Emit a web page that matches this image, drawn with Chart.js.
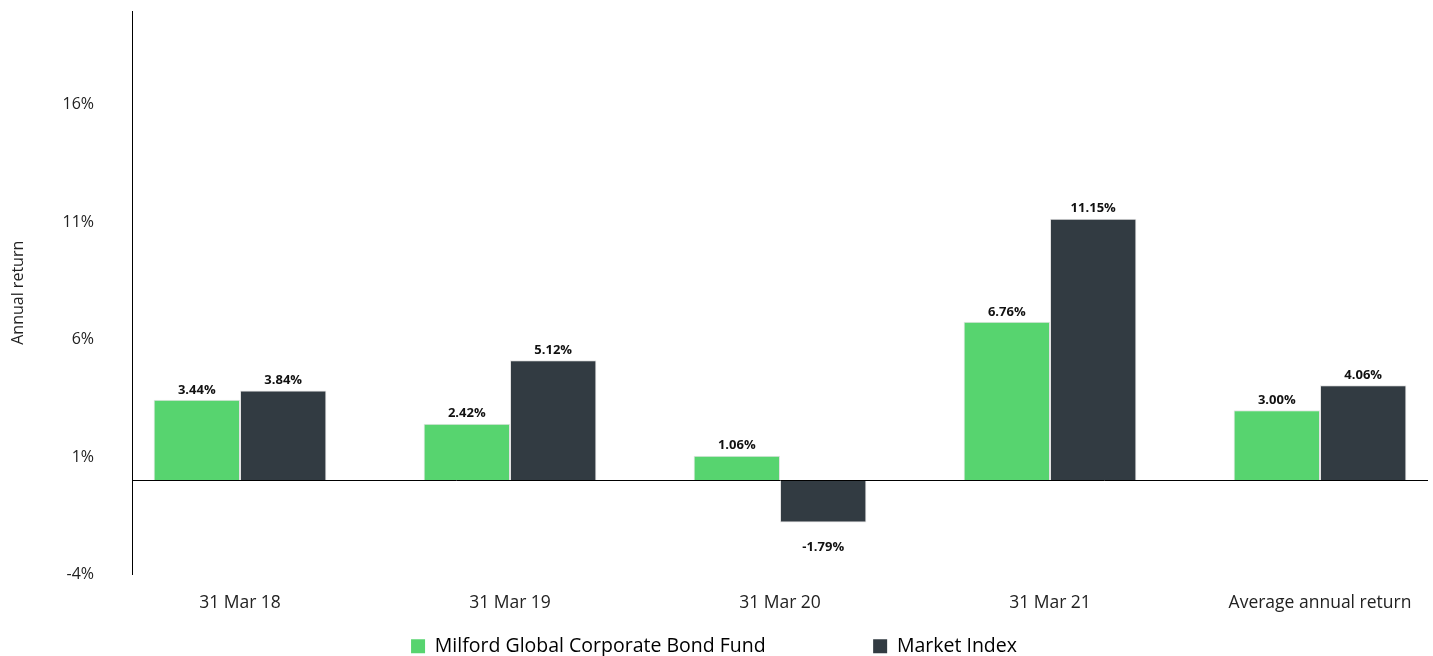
<!DOCTYPE html>
<html>
  <head>
    <title>Annual return</title>
    <script src="https://cdn.jsdelivr.net/npm/chart.js"></script>
    <style>
      html, body { margin: 0; padding: 0; background: #fff; overflow: hidden; }
    </style>
  </head>
  <body>
    <canvas id="myChart" width="1433" height="666"></canvas>
    <script>
      // data
      const categories = ["31 Mar 18", "31 Mar 19", "31 Mar 20", "31 Mar 21", "Average annual return"];
      const fundValues = [3.44, 2.42, 1.06, 6.76, 3.0];
      const indexValues = [3.84, 5.12, -1.79, 11.15, 4.06];
      const seriesNames = ["Milford Global Corporate Bond Fund", "Market Index"];
      const yTicks = [-4, 0, 1, 6, 11, 16];

      const FONT = "'Open Sans', 'DejaVu Sans', sans-serif";

      // labels above / below each bar
      const valueLabels = {
        id: "valueLabels",
        afterDatasetsDraw(chart) {
          const ctx = chart.ctx;
          ctx.save();
          ctx.font = "bold 13px " + FONT;
          ctx.fillStyle = "#111";
          ctx.textAlign = "center";
          chart.data.datasets.forEach((ds, i) => {
            chart.getDatasetMeta(i).data.forEach((bar, j) => {
              const v = ds.data[j].y;
              const y = v >= 0 ? bar.y - 10 : bar.y + 25;
              ctx.fillText(v.toFixed(2) + "%", bar.x, y);
            });
          });
          ctx.restore();
        },
      };

      const ctx = document.getElementById("myChart").getContext("2d");
      const chart = new Chart(ctx, {
        type: "bar",
        data: {
          datasets: [
            {
              label: seriesNames[0],
              data: fundValues.map((v, i) => ({ x: i, y: v })),
              backgroundColor: "#57d46f",
              borderColor: "#e2e2e2",
              borderWidth: 1,
            },
            {
              label: seriesNames[1],
              data: indexValues.map((v, i) => ({ x: i, y: v })),
              backgroundColor: "#323b42",
              borderColor: "#e2e2e2",
              borderWidth: 1,
            },
          ],
        },
        options: {
          responsive: false,
          animation: false,
          categoryPercentage: 0.64,
          barPercentage: 1.0,
          layout: { padding: { top: 11, right: 5, left: 0, bottom: 0 } },
          scales: {
            x: {
              type: "linear",
              offset: false,
              min: -0.4,
              max: 4.4,
              afterBuildTicks: (axis) => {
                axis.ticks = categories.map((c, i) => ({ value: i }));
              },
              afterFit: (axis) => {
                axis.height = 52;
              },
              grid: { display: false },
              border: { display: false },
              ticks: {
                padding: 10,
                color: "#222",
                font: { family: FONT, size: 17.5 },
                maxRotation: 0,
                autoSkip: false,
                callback: (v) => categories[v],
              },
            },
            y: {
              min: -4,
              max: 20,
              afterBuildTicks: (axis) => {
                axis.ticks = yTicks.map((v) => ({ value: v }));
              },
              afterFit: (axis) => {
                axis.width = 132;
              },
              grid: {
                drawTicks: true,
                tickLength: 38,
                tickColor: "rgba(0,0,0,0)",
                color: (c) => (c.tick && c.tick.value === 0 ? "#000" : "rgba(0,0,0,0)"),
                lineWidth: 1,
              },
              border: { display: true, color: "#000", width: 1 },
              ticks: {
                padding: 0,
                color: "#222",
                font: { family: FONT, size: 16 },
                callback: (v) => (v === 0 ? "" : v + "%"),
              },
              title: {
                display: true,
                text: "Annual return",
                color: "#222",
                font: { family: FONT, size: 16 },
                padding: { top: 9, bottom: 0 },
              },
            },
          },
          plugins: {
            legend: {
              position: "bottom",
              labels: {
                boxWidth: 14,
                boxHeight: 14,
                padding: 10,
                color: "#333",
                font: { family: FONT, size: 19.5 },
                generateLabels: (chart) =>
                  chart.data.datasets.map((ds, i) => ({
                    text: i === 0 ? ds.label + "\u2003\u2003\u2003\u2003\u2003" : ds.label,
                    fillStyle: ds.backgroundColor,
                    strokeStyle: ds.backgroundColor,
                    lineWidth: 0,
                    datasetIndex: i,
                  })),
              },
            },
            tooltip: { enabled: false },
          },
        },
        plugins: [valueLabels],
      });
    </script>
  </body>
</html>
